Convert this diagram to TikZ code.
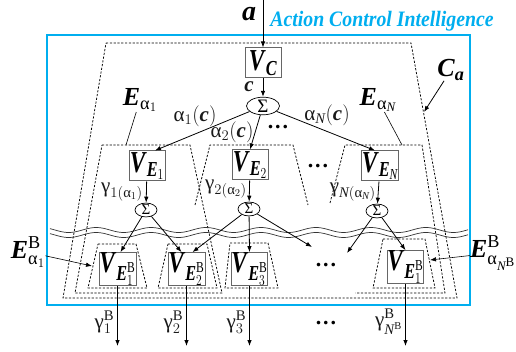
\RequirePackage{fix-cm}
\documentclass[tikz,border=0pt]{standalone}
\usepackage{amsmath}
\usepackage{fontspec}
\setmainfont{Liberation Serif}
\usepackage{graphicx}
\usepackage{xcolor}
\usepackage{tikz}
\usetikzlibrary{calc,arrows.meta,shapes.geometric}

\definecolor{aciblue}{RGB}{0,174,239}
\newcommand{\bfit}[1]{\textbf{\textit{#1}}}
\newcommand{\galpha}{\text{α}}
\newcommand{\ggamma}{\text{γ}}
\newcommand{\Nit}{\textit{N}}
\newcommand{\Bup}{\mathrm{B}}
\newcommand{\vname}[1]{\scalebox{0.8}[1.05]{$#1$}}

\tikzset{
  unitbox/.style={draw=black!60, line width=1pt, fill=white, inner sep=0pt,
    minimum width=36pt, minimum height=30pt, font=\fontsize{29}{29}\selectfont},
  sumnode/.style={ellipse, draw, line width=0.7pt, fill=white, inner sep=0pt,
    minimum width=22pt, minimum height=13pt, font=\fontsize{15}{15}\selectfont},
  bank/.style={dash pattern=on 2.2pt off 1.6pt, line width=0.75pt},
  flow/.style={-{Latex[length=6pt,width=4.5pt]}, line width=0.8pt},
  sig/.style={font=\fontsize{21}{21}\selectfont, text=black!90, inner sep=0pt},
  setname/.style={font=\fontsize{26}{26}\selectfont, inner sep=0pt},
  dots/.style={font=\bfseries\fontsize{22}{22}\selectfont, inner sep=0pt}
}

\begin{document}
\begin{tikzpicture}[x=1pt,y=-1pt]
  \useasboundingbox (0,0) rectangle (516,352);

  % Frame of the module and its title
  \draw[aciblue, line width=2pt] (47,35) rectangle (470,305);
  \node[text=aciblue, font=\bfseries\itshape\fontsize{22}{22}\selectfont, inner sep=0pt]
    (title) at (382,21) {\scalebox{0.9}[1]{Action Control Intelligence}};

  % Dashed set boundaries
  \draw[bank] (106,43) -- (411,43) -- (457,298) -- (63,298) -- cycle; % C_a
  \draw[bank] (102,145) -- (190,145) -- (222,293) -- (75,293) -- cycle; % E_alpha1
  \draw[bank] (195,205) -- (210,145) -- (293,145) -- (308,205); % E_alpha2
  \draw[bank] (330,203) -- (345,145) -- (422,145) -- (445,293) -- (355,293); % E_alphaN
  \draw[bank] (98,244) -- (136,244) -- (147,288) -- (88,288) -- cycle;
  \draw[bank] (168,244) -- (207,244) -- (217,288) -- (158,288) -- cycle;
  \draw[bank] (230,243) -- (268,243) -- (278,288) -- (225,288) -- cycle;
  \draw[bank] (383,239) -- (425,239) -- (435,288) -- (373,288) -- cycle;

  % Double wave between the two levels
  \foreach \yw in {230,235}
    \draw[line width=0.7pt, black!80] plot[domain=50:468, samples=180, smooth]
      (\x, {\yw+2.5*sin(\x*6.55)});

  % Command level
  \coordinate (ain) at (263,0);
  \node[unitbox] (vc) at (263,63) {\vname{\bfit{V}_{\bfit{C}}}};
  \node[sumnode, minimum width=33pt, minimum height=17pt, font=\fontsize{19}{19}\selectfont]
    (stop) at (263,106) {Σ};

  % First level units
  \node[unitbox] (ve1) at (147,166) {\vname{\bfit{V}_{\bfit{E}_1}}};
  \node[unitbox] (ve2) at (250,165) {\vname{\bfit{V}_{\bfit{E}_2}}};
  \node[unitbox] (ven) at (380,166) {\vname{\bfit{V}_{\bfit{E}_{\Nit}}}};
  \node[sumnode] (s1) at (146,210) {Σ};
  \node[sumnode] (s2) at (249,209) {Σ};
  \node[sumnode] (sn) at (377,211) {Σ};

  % Basic level units
  \node[unitbox, minimum width=37pt, minimum height=32pt] (vb1) at (117.5,269) {\vname{\bfit{V}_{\bfit{E}^{\Bup}_1}}};
  \node[unitbox, minimum width=37pt, minimum height=32pt] (vb2) at (186.5,269) {\vname{\bfit{V}_{\bfit{E}^{\Bup}_2}}};
  \node[unitbox, minimum width=35pt, minimum height=32pt] (vb3) at (249.5,269) {\vname{\bfit{V}_{\bfit{E}^{\Bup}_3}}};
  \node[unitbox, minimum width=35pt, minimum height=32pt] (vbn) at (405.5,267) {\vname{\bfit{V}_{\bfit{E}^{\Bup}_1}}};

  % Dots for the omitted units
  \node[dots] (dtop) at (278,127) {.\hspace{2pt}.\hspace{2pt}.};
  \node[dots] (dmid) at (318,166) {.\hspace{2pt}.\hspace{2pt}.};
  \node[dots] (dbas) at (326,265) {.\hspace{2pt}.\hspace{2pt}.};
  \node[dots] (dout) at (326,323) {.\hspace{2pt}.\hspace{2pt}.};
  \coordinate (dl) at (312,247);
  \coordinate (dr) at (347,253);

  % Signal flow
  \draw[flow] (ain) -- (vc);
  \node[setname, font=\fontsize{28}{28}\selectfont] (a) at (249,14) {\bfit{a}};
  \draw[flow] (vc) -- (stop);
  \node[sig] (c) at (249,87) {\bfit{c}};
  \draw[flow] (stop) -- ($(ve1.north)+(8,0)$);
  \draw[flow] (stop) -- (ve2.north);
  \draw[flow] (stop) -- ($(ven.north)+(-5,0)$);
  \node[sig] (al1) at (195,116) {$\galpha_1(\bfit{c})$};
  \node[sig] (al2) at (232,132) {$\galpha_2(\bfit{c})$};
  \node[sig] (aln) at (327,115) {$\galpha_{\Nit}(\bfit{c})$};

  \draw[flow] (ve1) -- (s1);
  \draw[flow] (ve2) -- (s2);
  \draw[flow] (ven) -- (sn);
  \node[sig, anchor=east] (g1) at (143,192) {$\ggamma_{1(\galpha_1)}$};
  \node[sig, anchor=east] (g2) at (247,189) {$\ggamma_{2(\galpha_2)}$};
  \node[sig, anchor=east] (gn) at (376,192) {$\ggamma_{\Nit(\galpha_{\Nit})}$};

  \draw[flow] (s1) -- ($(vb1.north)+(3,0)$);
  \draw[flow] (s1) -- ($(vb2.north)+(-5,0)$);
  \draw[flow] (s2) -- ($(vb2.north)+(6,0)$);
  \draw[flow] (s2) -- (vb3.north);
  \draw[flow] (s2) -- (dl);
  \draw[flow] (sn) -- (dr);
  \draw[flow] (sn) -- (vbn.north);

  % Outputs of the basic level
  \foreach \u/\lab in {vb1/{1}, vb2/{2}, vb3/{3}, vbn/{\Nit^{\Bup}}} {
    \coordinate (o-\u) at (\u |- 0,346);
    \draw[flow] (\u) -- (o-\u);
    \node[sig, anchor=east] at ($(\u |- 0,322)+(-3,0)$) {$\ggamma^{\Bup}_{\lab}$};
  }

  % Set names and their pointers
  \node[setname] (ca) at (451,70) {$\bfit{C}_{\bfit{a}}$};
  \coordinate (caedge) at (424,112);
  \draw[flow] (ca) -- (caedge);
  \node[setname] (ea1) at (140,100) {$\bfit{E}_{\galpha_1}$};
  \coordinate (ea1edge) at (126,145);
  \draw[line width=0.6pt] (ea1) -- (ea1edge);
  \node[setname] (ean) at (378,100) {$\bfit{E}_{\galpha_{\Nit}}$};
  \coordinate (eanedge) at (402,145);
  \draw[line width=0.6pt] (ean) -- (eanedge);
  \node[setname] (eb1) at (28,252) {$\bfit{E}^{\Bup}_{\galpha_1}$};
  \coordinate (eb1edge) at (92,266);
  \draw[flow, line width=0.6pt] (eb1) -- (eb1edge);
  \node[setname] (ebn) at (493,253) {$\bfit{E}^{\Bup}_{\galpha_{\Nit^{\Bup}}}$};
  \coordinate (ebnedge) at (430,260);
  \draw[flow, line width=0.6pt] (ebn) -- (ebnedge);
\end{tikzpicture}
\end{document}
